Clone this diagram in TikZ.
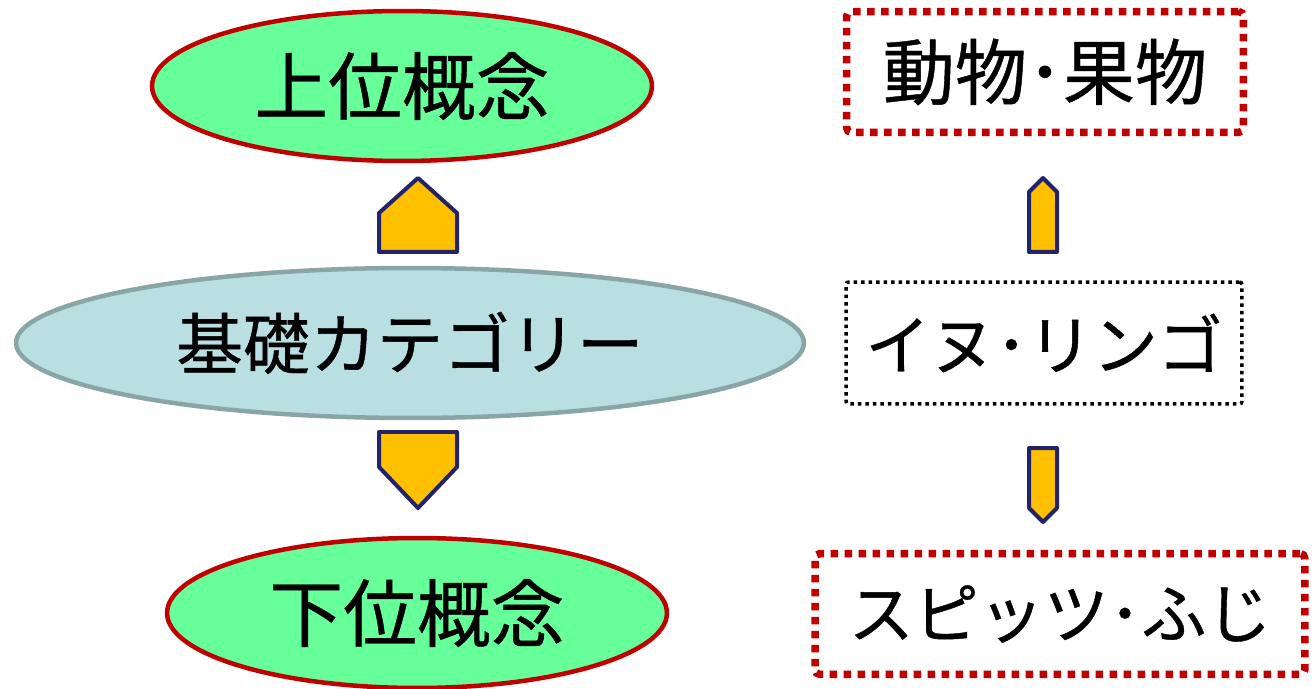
\documentclass[tikz,border=0pt]{standalone}
\usepackage{fontspec}
\setmainfont{Noto Sans CJK JP}[FakeBold=0.6]
\usetikzlibrary{shapes.geometric}
\definecolor{conceptgreen}{HTML}{66FF99}
\definecolor{conceptred}{HTML}{C00000}
\definecolor{basicblue}{HTML}{B9DFE3}
\definecolor{basicgray}{HTML}{8AA5A5}
\definecolor{arrowgold}{HTML}{FFC000}
\definecolor{arrownavy}{HTML}{23236B}
\tikzset{
  concept/.style={ellipse,draw=conceptred,fill=conceptgreen,line width=0.09cm,
    minimum width=10cm,minimum height=3cm,inner sep=0pt,
    font=\fontsize{42}{48}\selectfont},
  basic/.style={ellipse,draw=basicgray,fill=basicblue,line width=0.09cm,
    minimum width=15.76cm,minimum height=3cm,inner sep=0pt},
  redbox/.style={draw=conceptred,line width=0.15cm,dash pattern=on 0.15cm off 0.13cm,
    rounded corners=0.1cm,minimum height=2.42cm,inner sep=0pt},
  blackbox/.style={draw=black,line width=0.07cm,dash pattern=on 0.07cm off 0.08cm,
    rounded corners=0.05cm,minimum width=7.92cm,minimum height=2.44cm,inner sep=0pt},
  blockarrow/.style={draw=arrownavy,fill=arrowgold,line width=0.08cm,line join=round},
}
\begin{document}
\begin{tikzpicture}[x=0.02cm,y=-0.02cm,font=\fontsize{38}{44}\selectfont]
  \useasboundingbox (0,0) rectangle (1316,689);

  % 左側の楕円
  \node[concept] (upper) at (402,86) {上位概念};
  \node[basic] (basiccat) at (410,343) {基礎カテゴリー};
  \node[concept] (lower) at (417,613) {下位概念};

  % 右側の点線枠
  \node[redbox,minimum width=7.94cm,font=\fontsize{41}{48}\selectfont] (animal) at (1045,72) {動物･果物};
  \node[blackbox,font=\fontsize{37}{44}\selectfont] (dog) at (1044,343) {イヌ･リンゴ};
  \node[redbox,minimum width=9.8cm,font=\fontsize{37}{44}\selectfont] (spitz) at (1060,614) {スピッツ･ふじ};

  % 左側の矢印
  \draw[blockarrow] (379,252) -- (379,213) -- (418,178) -- (457,213) -- (457,252) -- cycle;
  \draw[blockarrow] (379,432) -- (457,432) -- (457,467) -- (418,508) -- (379,467) -- cycle;

  % 右側の矢印
  \draw[blockarrow] (1029,252) -- (1029,192) -- (1043,178) -- (1057,192) -- (1057,252) -- cycle;
  \draw[blockarrow] (1029,448) -- (1057,448) -- (1057,508) -- (1043,522) -- (1029,508) -- cycle;
\end{tikzpicture}
\end{document}
